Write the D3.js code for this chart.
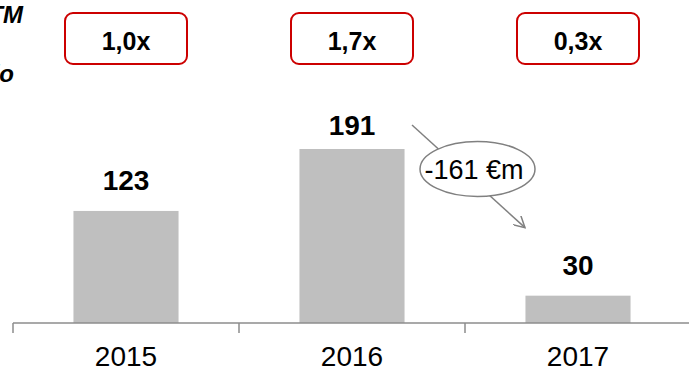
<!DOCTYPE html>
<html>
<head>
<meta charset="utf-8">
<script src="https://cdn.jsdelivr.net/npm/d3@7"></script>
<style>
  body { margin: 0; background: #fff; }
  svg { display: block; font-family: "Liberation Sans", Arial, sans-serif; }
</style>
</head>
<body>
<div id="chart"></div>
<script>
// chart data
const years = ['2015', '2016', '2017'];
const values = [123, 191, 30];
const ratios = ['1,0x', '1,7x', '0,3x'];
const changeLabel = '-161 €m';

const width = 689;
const height = 368;

const svg = d3.select('#chart')
    .append('svg')
    .attr('width', width)
    .attr('height', height);

// scales
const x = d3.scaleBand()
    .domain(years)
    .range([13, 691])
    .paddingInner(0.535)
    .paddingOuter(0.2675);

const y = d3.scaleLinear()
    .domain([0, 191])
    .range([323, 149]);

const center = d => x(d) + x.bandwidth() / 2;

// bars
svg.selectAll('.bar')
    .data(years)
    .enter().append('rect')
    .attr('class', 'bar')
    .attr('x', d => x(d))
    .attr('width', x.bandwidth())
    .attr('y', (d, i) => y(values[i]))
    .attr('height', (d, i) => y(0) - y(values[i]))
    .attr('fill', '#bfbfbf');

// axis line with ticks on category boundaries
const axisG = svg.append('g').attr('stroke', '#8c8c8c').attr('stroke-width', 1.5);
axisG.append('line')
    .attr('x1', x.range()[0]).attr('x2', x.range()[1])
    .attr('y1', y(0)).attr('y2', y(0));
axisG.selectAll('.tick')
    .data(d3.range(years.length + 1))
    .enter().append('line')
    .attr('x1', i => x.range()[0] + i * x.step())
    .attr('x2', i => x.range()[0] + i * x.step())
    .attr('y1', y(0))
    .attr('y2', y(0) + 10);

// year labels
svg.selectAll('.year')
    .data(years)
    .enter().append('text')
    .attr('x', d => center(d))
    .attr('y', 366)
    .attr('text-anchor', 'middle')
    .attr('font-size', 28)
    .attr('fill', '#000')
    .text(d => d);

// value labels (the tallest one sits a little closer to its bar)
svg.selectAll('.value')
    .data(years)
    .enter().append('text')
    .attr('x', d => center(d))
    .attr('y', (d, i) => values[i] === d3.max(values) ? y(values[i]) - 14 : y(values[i]) - 21)
    .attr('text-anchor', 'middle')
    .attr('font-size', 28)
    .attr('font-weight', 'bold')
    .attr('fill', '#000')
    .text((d, i) => values[i]);

// ratio boxes along the top
const boxW = 122, boxH = 51;
const boxes = svg.selectAll('.ratio')
    .data(years)
    .enter().append('g')
    .attr('transform', d => `translate(${center(d)},${13})`);
boxes.append('rect')
    .attr('x', -boxW / 2)
    .attr('width', boxW)
    .attr('height', boxH)
    .attr('rx', 8)
    .attr('fill', '#fff')
    .attr('stroke', '#cc0000')
    .attr('stroke-width', 2);
boxes.append('text')
    .attr('y', 37)
    .attr('text-anchor', 'middle')
    .attr('font-size', 25)
    .attr('font-weight', 'bold')
    .attr('fill', '#000')
    .text((d, i) => ratios[i]);

// cut-off labels at the left edge
svg.append('text')
    .attr('x', 23).attr('y', 23)
    .attr('text-anchor', 'end')
    .attr('font-size', 24)
    .attr('font-weight', 'bold')
    .attr('font-style', 'italic')
    .text('LTM');
svg.append('text')
    .attr('x', 14).attr('y', 82)
    .attr('text-anchor', 'end')
    .attr('font-size', 24)
    .attr('font-weight', 'bold')
    .attr('font-style', 'italic')
    .text('Ratio');

// arrow from 2016 to 2017 with the change callout
svg.append('defs').append('marker')
    .attr('id', 'arrow')
    .attr('viewBox', '0 0 12 12')
    .attr('refX', 11).attr('refY', 6)
    .attr('markerWidth', 12).attr('markerHeight', 12)
    .attr('markerUnits', 'userSpaceOnUse')
    .attr('orient', 'auto')
    .append('path')
    .attr('d', 'M0,0 L11,6 L0,12')
    .attr('fill', 'none')
    .attr('stroke', '#808080')
    .attr('stroke-width', 1.5);

const x0 = center('2016') + 60, y0 = y(191) - 24;
const x1 = center('2017') - 53, y1 = y(30) - 68;
svg.append('line')
    .attr('x1', x0).attr('y1', y0)
    .attr('x2', x1).attr('y2', y1)
    .attr('stroke', '#808080')
    .attr('stroke-width', 1.5)
    .attr('marker-end', 'url(#arrow)');

svg.append('ellipse')
    .attr('cx', 477.5).attr('cy', 169)
    .attr('rx', 57.5).attr('ry', 27.5)
    .attr('fill', '#fff')
    .attr('stroke', '#808080')
    .attr('stroke-width', 1.5);
svg.append('text')
    .attr('x', 474).attr('y', 179)
    .attr('text-anchor', 'middle')
    .attr('font-size', 27)
    .attr('fill', '#000')
    .text(changeLabel);
</script>
</body>
</html>
